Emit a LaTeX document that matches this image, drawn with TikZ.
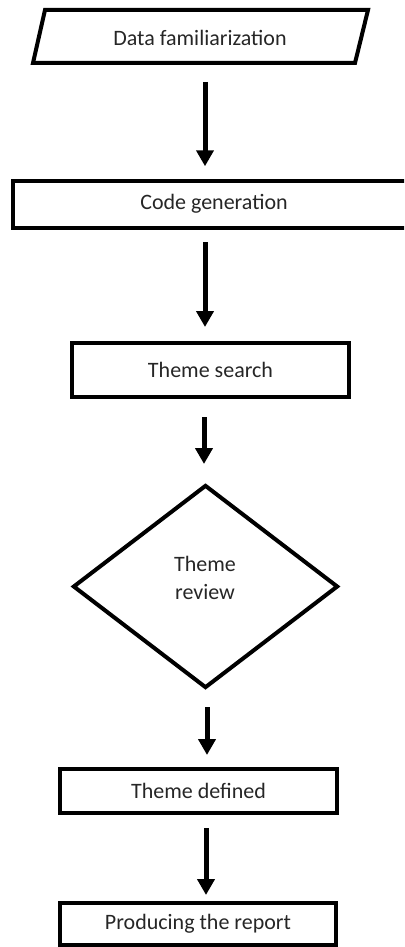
\documentclass[tikz,border=0pt]{standalone}
\usepackage{fontspec}
\setmainfont{Carlito}
\usetikzlibrary{arrows.meta,shapes.geometric,calc}
\definecolor{ink}{RGB}{38,38,38}
\begin{document}
\begin{tikzpicture}[x=1pt,y=-1pt,
  txt/.style={text=ink, font=\fontsize{22}{28}\selectfont, align=center, inner sep=0pt},
  stepbox/.style={txt, draw=black, line width=4pt, rectangle},
  flow/.style={draw=black, line width=5pt, -{Triangle[width=17pt,length=16pt]}}]
\useasboundingbox (0,0) rectangle (404,947);
\clip (0,0) rectangle (404,947);

% input step: parallelogram
\node[txt] (fam) at (200,38) {Data familiarization};
\draw[line width=4pt] (45,10) -- (368,10) -- (355,63) -- (33,63) -- cycle;

% process steps (the first one runs past the right border)
\node[stepbox, minimum width=402pt, minimum height=47.5pt] (code) at (214,204.25) {Code generation};
\node[stepbox, minimum width=277pt, minimum height=54pt] (search) at (210.5,370) {Theme search};

% decision
\node[diamond, draw=black, line width=4pt, inner sep=0pt,
      minimum width=265pt, minimum height=203pt] (review) at (205.5,586.5) {};
\node[txt] (reviewtxt) at (205,578) {Theme\\review};

\node[stepbox, minimum width=277pt, minimum height=44pt] (defined) at (198.5,791) {Theme defined};
\node[stepbox, minimum width=276pt, minimum height=42pt] (report) at (198,924) {Producing the report};

% connectors
\draw[flow] ($(fam.center)+(5,44)$) -- ($(code.center)+(-9,-38)$);
\draw[flow] ($(code.center)+(-9,38)$) -- ($(search.center)+(-5.5,-43)$);
\draw[flow] ($(search.center)+(-6.5,47)$) -- ($(review.center)+(-1.5,-122.5)$);
\draw[flow] ($(review.center)+(1.5,120.5)$) -- ($(defined.center)+(8.5,-36)$);
\draw[flow] ($(defined.center)+(7.5,37)$) -- ($(report.center)+(8,-29)$);
\end{tikzpicture}
\end{document}
